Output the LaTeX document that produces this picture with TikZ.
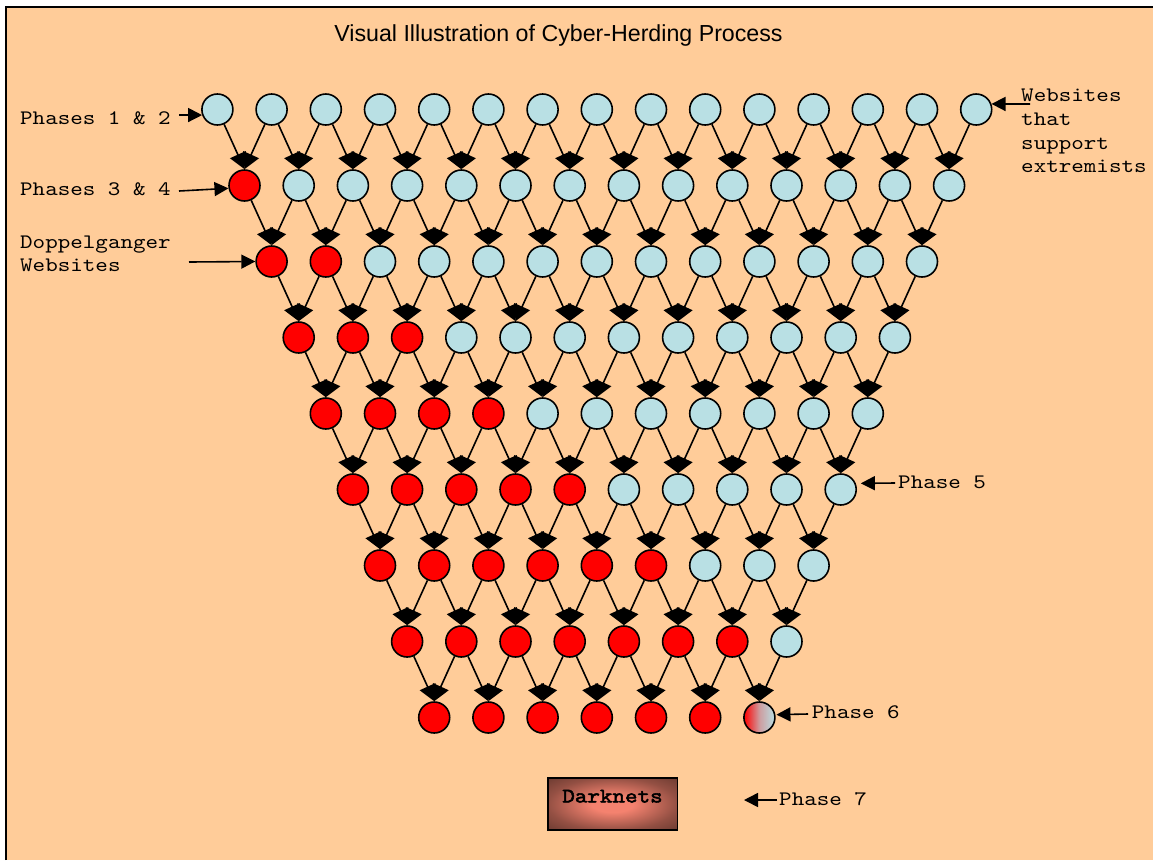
\documentclass[tikz,border=0pt]{standalone}
\usepackage{fontspec}
\setmainfont{Liberation Sans}
\newfontfamily\courfont{lmmono10-regular.otf}[FakeStretch=1.16, BoldFont=lmmono10-regular.otf, BoldFeatures={FakeBold=2.5}]
\usetikzlibrary{arrows.meta}
\definecolor{peach}{HTML}{FFCC99}
\definecolor{cblue}{HTML}{B9E0E4}
\definecolor{darkbrown}{HTML}{6E3C32}
\definecolor{salmon}{HTML}{F4826F}
\pgfdeclareradialshading{darkglow}{\pgfpoint{0bp}{0bp}}{color(0bp)=(salmon); color(8bp)=(salmon); color(25bp)=(darkbrown!72!salmon); color(35bp)=(darkbrown); color(50bp)=(darkbrown)}
\begin{document}
\begin{tikzpicture}[x=1pt,y=-1pt,
  site/.style={circle, draw=black, line width=1.6pt, minimum size=31pt, inner sep=0pt},
  blue site/.style={site, fill=cblue},
  red site/.style={site, fill=red},
  mixed site/.style={site, left color=red, right color=cblue, middle color=cblue!70!red},
  flow/.style={-{Triangle[length=16pt,width=17pt]}, line width=1.6pt},
  pointer/.style={-{Triangle[length=14pt,width=14pt]}, line width=1.6pt},
  lbl/.style={font=\courfont\fontsize{20.6}{23.6}\selectfont, inner sep=0pt, align=left},
]
\useasboundingbox (0,0) rectangle (1153,860);
\fill[white] (0,0) rectangle (1153,860);
\fill[peach] (6,7) rectangle (1153,860);
\draw[line width=2.2pt] (6,860) -- (6,7) -- (1153,7);

\node[font=\fontsize{23.2}{27}\selectfont, anchor=base, inner sep=0pt] (title) at (558.5,41) {Visual Illustration of Cyber-Herding Process};

% circles
\foreach \k in {0,...,8}{
  \pgfmathtruncatemacro{\last}{14-\k}
  \foreach \i in {0,...,\last}{
    \pgfmathsetmacro{\cx}{217.4+27.1*\k+54.2*\i}
    \pgfmathsetmacro{\cy}{109.5+76*\k}
    \ifnum\i<\k \def\sty{red site}\else\def\sty{blue site}\fi
    \ifnum\k=8 \ifnum\i=6 \def\sty{mixed site}\fi\fi
    \edef\tmp{\noexpand\node[\sty] (c-\k-\i) at (\cx,\cy) {};}\tmp
  }
}

% arrows between rows
\foreach \k in {0,...,7}{
  \pgfmathtruncatemacro{\nk}{\k+1}
  \pgfmathtruncatemacro{\last}{14-\k}
  \foreach \i in {0,...,\last}{
    \ifnum\i>0
      \pgfmathtruncatemacro{\j}{\i-1}
      \draw[flow] (c-\k-\i) -- (c-\nk-\j.north);
    \fi
    \ifnum\i<\last
      \draw[flow] (c-\k-\i) -- (c-\nk-\i.north);
    \fi
  }
}

% labels
\node[lbl, anchor=base west] (p12) at (20,124.3) {Phases 1 \& 2};
\coordinate (p12a) at (179,115);
\draw[pointer] (p12a) -- (c-0-0.200);

\node[lbl, anchor=base west] (p34) at (20,195.3) {Phases 3 \& 4};
\coordinate (p34a) at (179,191);
\draw[pointer] (p34a) -- (c-1-0.190);

\node[lbl, anchor=base west] (dop) at (20,271.7) {Doppelganger\\Websites};
\coordinate (dopa) at (189,262);
\draw[pointer] (dopa) -- (c-2-0.west);

\node[lbl, anchor=base west] (ext) at (1021,172.7) {Websites\\that\\support\\extremists};
\coordinate (exta) at (1030,104);
\draw[pointer] (exta) -- (c-0-14.20);

\node[lbl, anchor=base west] (p5) at (898,488.3) {Phase 5};
\coordinate (p5a) at (895,483);
\draw[pointer, shorten >=5pt] (p5a) -- (c-5-9.22);

\node[lbl, anchor=base west] (p6) at (811.7,718.3) {Phase 6};
\coordinate (p6a) at (808,714);
\draw[pointer, shorten >=1pt] (p6a) -- (c-8-6.10);

\node[draw=black, line width=1.8pt, minimum width=129.8pt, minimum height=52.5pt,
  inner sep=0pt, shading=darkglow,
  font=\courfont\bfseries\fontsize{20.6}{24}\selectfont, text height=13pt, text depth=16pt]
  (dark) at (612.5,803.9) {Darknets};

\node[lbl, anchor=base west] (p7) at (779,805.7) {Phase 7};
\coordinate (p7a) at (777,800);
\coordinate (p7tip) at (744,800);
\draw[pointer] (p7a) -- (p7tip);
\end{tikzpicture}
\end{document}
